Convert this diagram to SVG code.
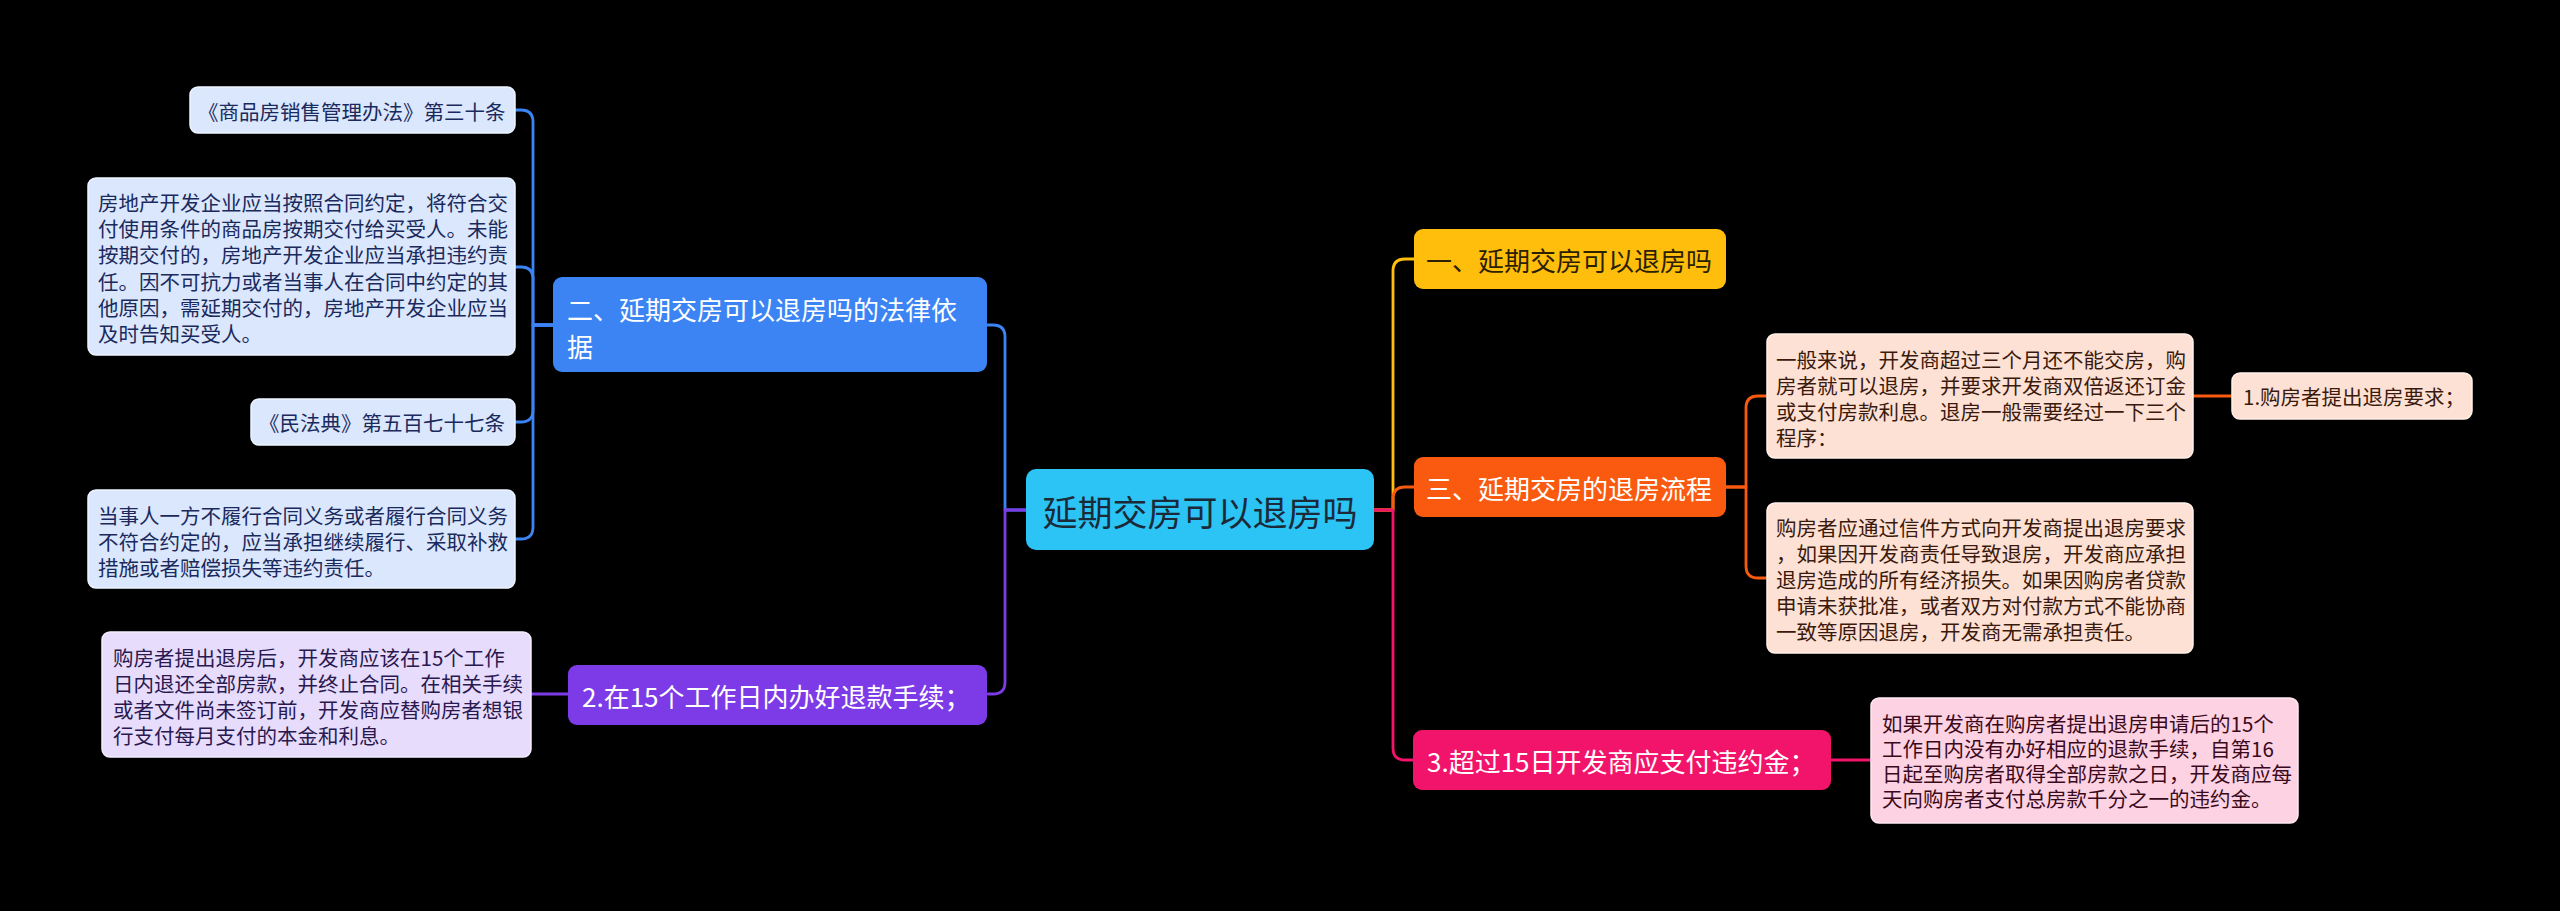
<svg xmlns="http://www.w3.org/2000/svg" width="2560" height="911" viewBox="0 0 2560 911">
<style>
text{font-family:"Noto Sans CJK SC","Noto Sans",sans-serif;dominant-baseline:central}
.leaf{font-size:20.5px}
.main{font-size:26px}
.c{fill:none;stroke-width:2.8;stroke-linecap:round;stroke-linejoin:round}
.lb{fill:#DBE7FC;stroke:#EEF4FF;stroke-width:1.5}
.lp{fill:#E7DCFB;stroke:#F3EDFF;stroke-width:1.5}
.lo{fill:#FDE1D4;stroke:#FFF0E8;stroke-width:1.5}
.lk{fill:#FDD2E2;stroke:#FFE8F0;stroke-width:1.5}
</style>
<rect x="0" y="0" width="2560" height="911" fill="#000000"/>
<g id="connectors">
<path class="c" stroke="#3C84F4" d="M553,325 H533 V122 Q533,110 521,110 H515"/>
<path class="c" stroke="#3C84F4" d="M553,325 H533 V279 Q533,267 521,267 H515"/>
<path class="c" stroke="#3C84F4" d="M553,325 H533 V410 Q533,422 521,422 H515"/>
<path class="c" stroke="#3C84F4" d="M553,325 H533 V527 Q533,539 521,539 H515"/>
<path class="c" stroke="#3C84F4" d="M1026,510 H1005 V337 Q1005,325 993,325 H987"/>
<path class="c" stroke="#7D3BE8" d="M1026,510 H1005 V682 Q1005,694 993,694 H988"/>
<path class="c" stroke="#7D3BE8" d="M568,694 H531"/>
<path class="c" stroke="#FFBE0B" d="M1375,510 H1393 V271 Q1393,259 1405,259 H1414"/>
<path class="c" stroke="#FA5A0F" d="M1375,510 H1393 V499 Q1393,487 1405,487 H1414"/>
<path class="c" stroke="#F2146B" d="M1375,510 H1393 V748 Q1393,760 1405,760 H1413"/>
<path class="c" stroke="#FA5A0F" d="M1726,487 H1746 V408 Q1746,396 1758,396 H1767"/>
<path class="c" stroke="#FA5A0F" d="M1726,487 H1746 V566 Q1746,578 1758,578 H1767"/>
<path class="c" stroke="#FA5A0F" d="M2193,396 H2232"/>
<path class="c" stroke="#F2146B" d="M1831,760 H1871"/>
</g>
<g id="center">
<rect x="1026" y="469" width="348" height="81" rx="10" fill="#2CC3F5"/>
<text x="1200" y="510" font-size="35" text-anchor="middle" fill="#1B2A38">延期交房可以退房吗</text>
</g>
<g id="b-legal">
<rect x="553" y="277" width="434" height="95" rx="9" fill="#3C84F4"/>
<text class="main" x="567" y="308" fill="#FFFFFF">二、延期交房可以退房吗的法律依</text>
<text class="main" x="567" y="345" fill="#FFFFFF">据</text>
</g>
<g id="l-legal1">
<rect class="lb" x="190" y="87" width="325" height="46" rx="8"/>
<text class="leaf" x="198" y="111" fill="#1A2A5C">《商品房销售管理办法》第三十条</text>
</g>
<g id="l-legal2">
<rect class="lb" x="88" y="178" width="427" height="177" rx="8"/>
<text class="leaf" fill="#1A2A5C"><tspan x="98" y="202">房地产开发企业应当按照合同约定，将符合交</tspan><tspan x="98" y="228.2">付使用条件的商品房按期交付给买受人。未能</tspan><tspan x="98" y="254.4">按期交付的，房地产开发企业应当承担违约责</tspan><tspan x="98" y="280.6">任。因不可抗力或者当事人在合同中约定的其</tspan><tspan x="98" y="306.8">他原因，需延期交付的，房地产开发企业应当</tspan><tspan x="98" y="333">及时告知买受人。</tspan></text>
</g>
<g id="l-legal3">
<rect class="lb" x="251" y="399" width="264" height="46" rx="8"/>
<text class="leaf" x="259" y="422" fill="#1A2A5C">《民法典》第五百七十七条</text>
</g>
<g id="l-legal4">
<rect class="lb" x="88" y="490" width="427" height="98" rx="8"/>
<text class="leaf" fill="#1A2A5C"><tspan x="98" y="515">当事人一方不履行合同义务或者履行合同义务</tspan><tspan x="98" y="541">不符合约定的，应当承担继续履行、采取补救</tspan><tspan x="98" y="567">措施或者赔偿损失等违约责任。</tspan></text>
</g>
<g id="b-refund15">
<rect x="568" y="665" width="419" height="60" rx="9" fill="#7D3BE8"/>
<text class="main" x="582" y="695" fill="#FFFFFF">2.在15个工作日内办好退款手续；</text>
</g>
<g id="l-refund15">
<rect class="lp" x="102" y="632" width="429" height="125" rx="8"/>
<text class="leaf" fill="#2A1850"><tspan x="113" y="657">购房者提出退房后，开发商应该在15个工作</tspan><tspan x="113" y="683">日内退还全部房款，并终止合同。在相关手续</tspan><tspan x="113" y="709">或者文件尚未签订前，开发商应替购房者想银</tspan><tspan x="113" y="735">行支付每月支付的本金和利息。</tspan></text>
</g>
<g id="b-can">
<rect x="1414" y="229" width="312" height="60" rx="9" fill="#FFBE0B"/>
<text class="main" x="1426" y="259" fill="#2B2100">一、延期交房可以退房吗</text>
</g>
<g id="b-process">
<rect x="1414" y="457" width="312" height="60" rx="9" fill="#FA5A0F"/>
<text class="main" x="1426" y="487" fill="#FFFFFF">三、延期交房的退房流程</text>
</g>
<g id="l-process1">
<rect class="lo" x="1767" y="334" width="426" height="124" rx="8"/>
<text class="leaf" fill="#3A1A0C"><tspan x="1776" y="359">一般来说，开发商超过三个月还不能交房，购</tspan><tspan x="1776" y="385">房者就可以退房，并要求开发商双倍返还订金</tspan><tspan x="1776" y="411">或支付房款利息。退房一般需要经过一下三个</tspan><tspan x="1776" y="437">程序：</tspan></text>
</g>
<g id="l-process1a">
<rect class="lo" x="2232" y="373" width="240" height="46" rx="8"/>
<text class="leaf" x="2243" y="396" fill="#3A1A0C">1.购房者提出退房要求；</text>
</g>
<g id="l-process2">
<rect class="lo" x="1767" y="503" width="426" height="150" rx="8"/>
<text class="leaf" fill="#3A1A0C"><tspan x="1776" y="527">购房者应通过信件方式向开发商提出退房要求</tspan><tspan x="1776" y="553">，如果因开发商责任导致退房，开发商应承担</tspan><tspan x="1776" y="579">退房造成的所有经济损失。如果因购房者贷款</tspan><tspan x="1776" y="605">申请未获批准，或者双方对付款方式不能协商</tspan><tspan x="1776" y="631">一致等原因退房，开发商无需承担责任。</tspan></text>
</g>
<g id="b-penalty">
<rect x="1413" y="730" width="418" height="60" rx="9" fill="#F2146B"/>
<text class="main" x="1427" y="760" fill="#FFFFFF">3.超过15日开发商应支付违约金；</text>
</g>
<g id="l-penalty">
<rect class="lk" x="1871" y="698" width="427" height="125" rx="8"/>
<text class="leaf" fill="#3A0A1C"><tspan x="1882" y="723">如果开发商在购房者提出退房申请后的15个</tspan><tspan x="1882" y="748">工作日内没有办好相应的退款手续，自第16</tspan><tspan x="1882" y="773">日起至购房者取得全部房款之日，开发商应每</tspan><tspan x="1882" y="798">天向购房者支付总房款千分之一的违约金。</tspan></text>
</g>
</svg>
